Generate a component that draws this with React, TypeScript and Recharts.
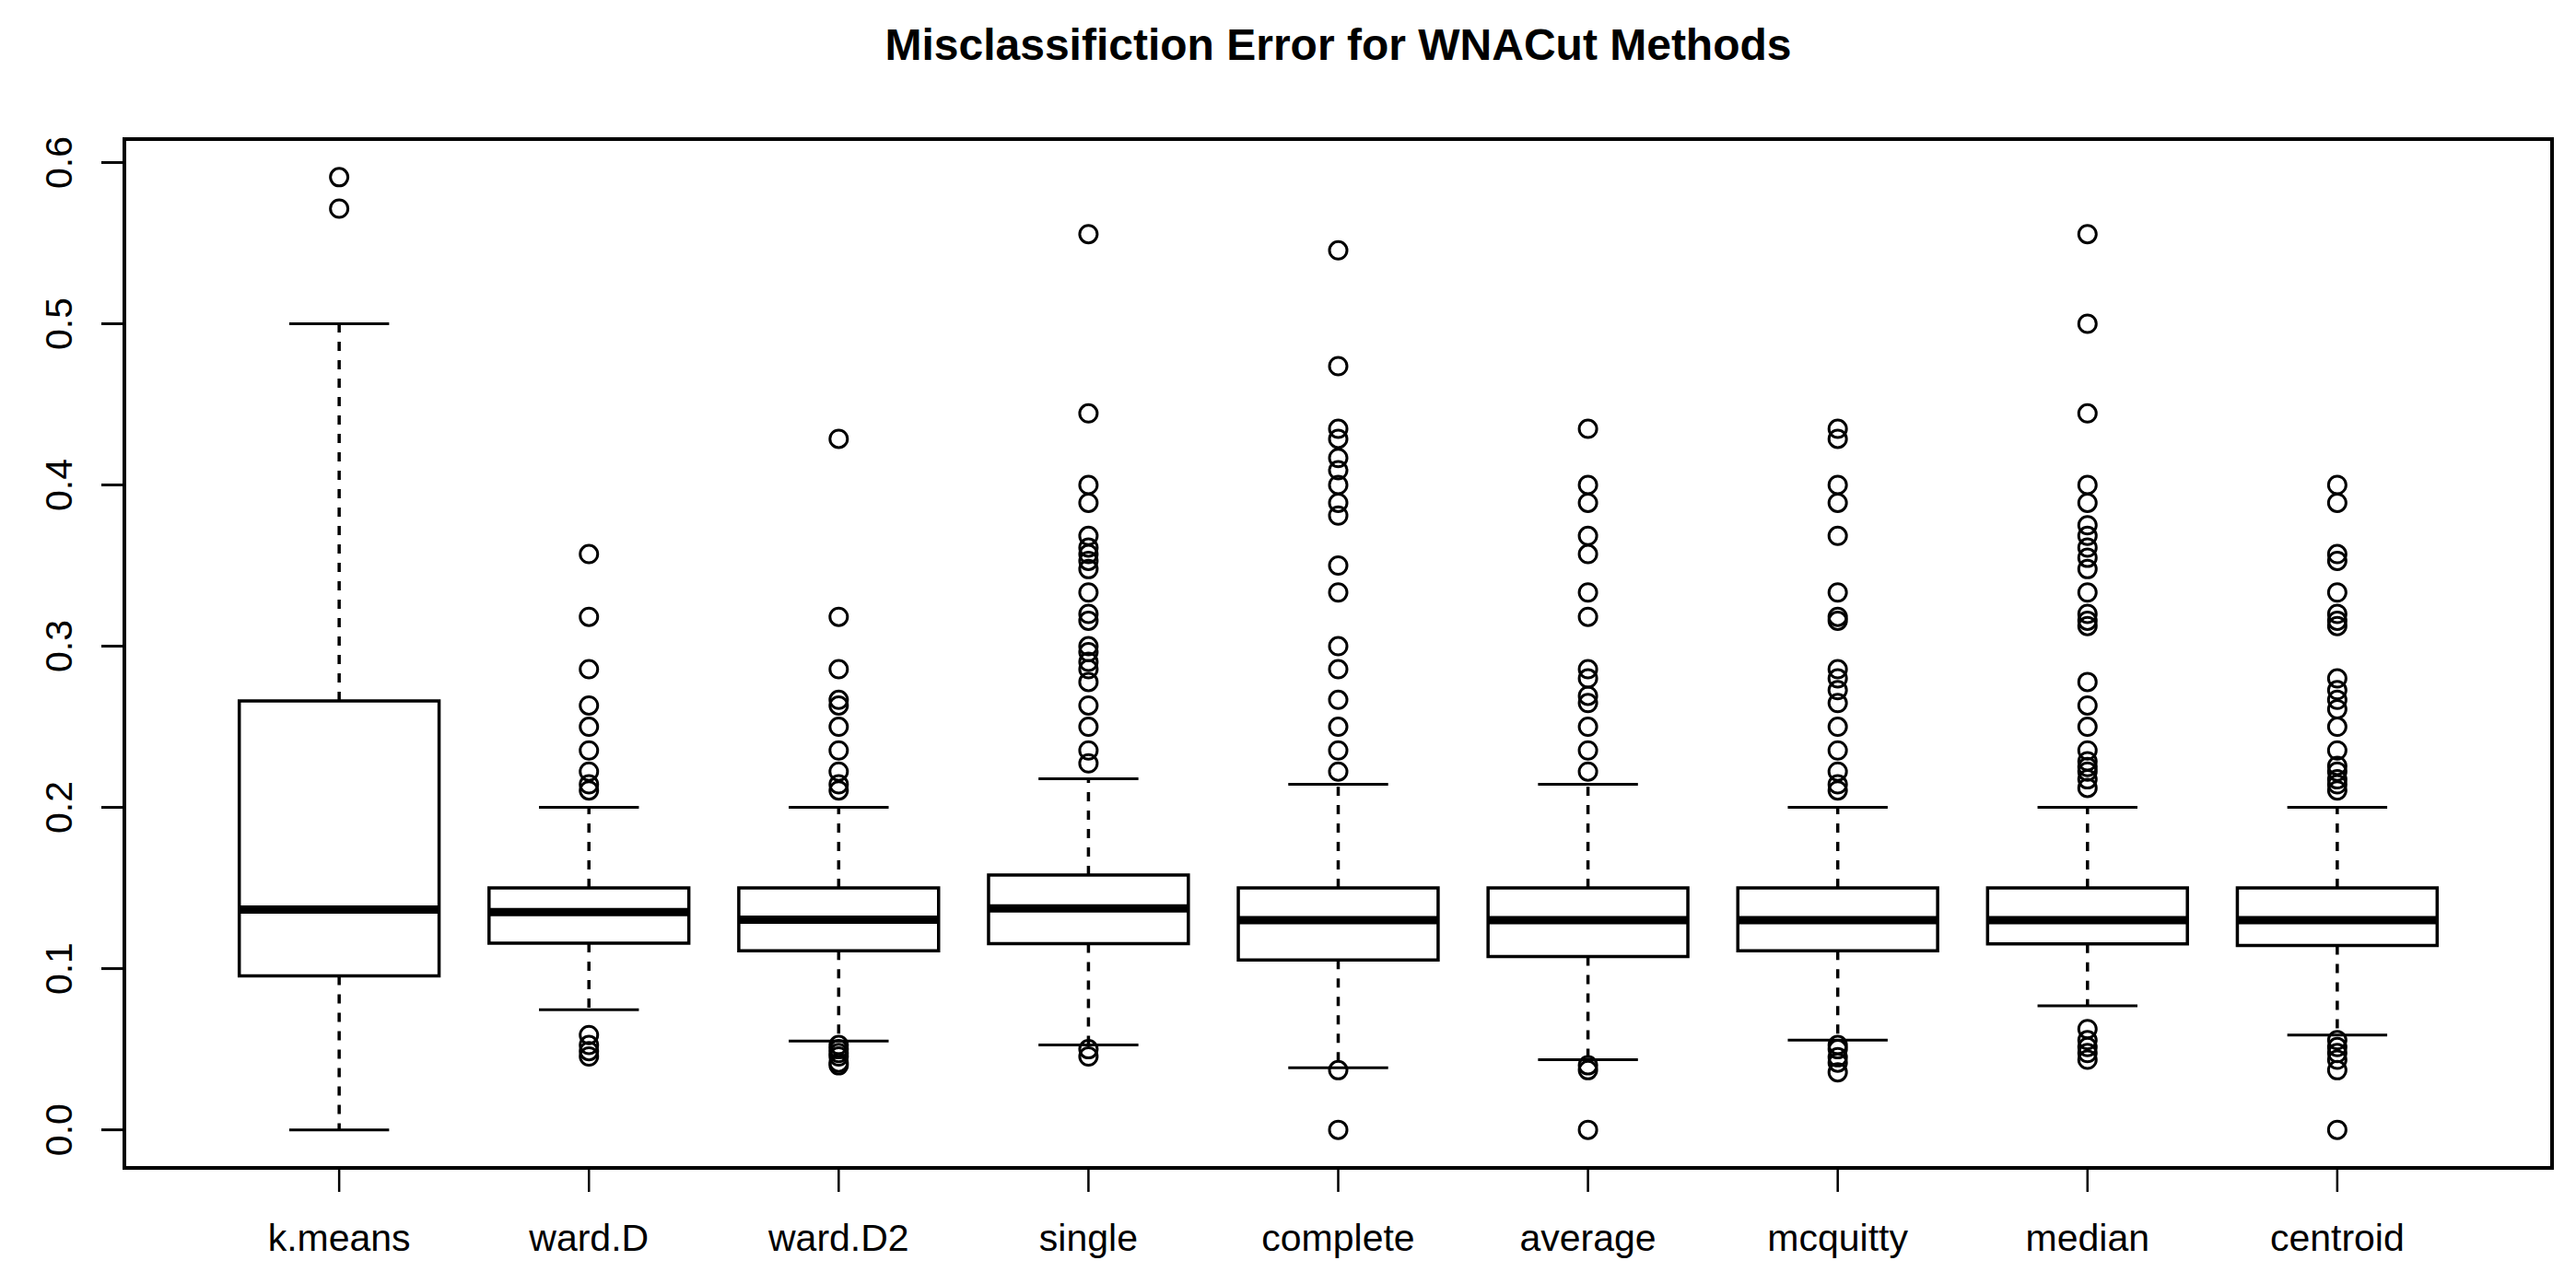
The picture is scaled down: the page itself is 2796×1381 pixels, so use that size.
import { ComposedChart, ReferenceArea, ReferenceLine, Scatter, XAxis, YAxis } from "recharts";

const categories = ["k.means", "ward.D", "ward.D2", "single", "complete", "average", "mcquitty", "median", "centroid"];

const lowerWhisker = [0, 0.0745, 0.055, 0.0526, 0.0385, 0.0435, 0.0556, 0.0769, 0.0588];
const lowerHinge = [0.0955, 0.1158, 0.111, 0.1155, 0.1053, 0.1075, 0.1111, 0.1154, 0.1143];
const medians = [0.1366, 0.135, 0.1304, 0.1373, 0.13, 0.13, 0.13, 0.13, 0.13];
const upperHinge = [0.266, 0.15, 0.15, 0.158, 0.15, 0.15, 0.15, 0.15, 0.15];
const upperWhisker = [0.5, 0.2, 0.2, 0.2178, 0.2143, 0.2143, 0.2, 0.2, 0.2];

const outliers: number[][] = [
  [0.5909, 0.5714],
  [0.3571, 0.3182, 0.2857, 0.2632, 0.25, 0.2353, 0.2222, 0.2143, 0.2105, 0.0588, 0.0526, 0.0488, 0.0455],
  [0.4286, 0.3182, 0.2857, 0.2667, 0.2632, 0.25, 0.2353, 0.2222, 0.2143, 0.2105, 0.0526, 0.05, 0.0476, 0.0455, 0.0417, 0.04],
  [0.5556, 0.4444, 0.4, 0.3889, 0.3684, 0.3611, 0.3571, 0.3529, 0.3478, 0.3333, 0.32, 0.3158, 0.3, 0.2963, 0.2903, 0.2857, 0.2778, 0.2632, 0.25, 0.2353, 0.2273, 0.05, 0.0455],
  [0.5455, 0.4737, 0.4348, 0.4286, 0.4167, 0.4091, 0.4, 0.3889, 0.381, 0.35, 0.3333, 0.3, 0.2857, 0.2667, 0.25, 0.2353, 0.2222, 0.037, 0],
  [0.4348, 0.4, 0.3889, 0.3684, 0.3571, 0.3333, 0.3182, 0.2857, 0.28, 0.2692, 0.2647, 0.25, 0.2353, 0.2222, 0.04, 0.037, 0],
  [0.4348, 0.4286, 0.4, 0.3889, 0.3684, 0.3333, 0.3182, 0.3158, 0.2857, 0.28, 0.2727, 0.2647, 0.25, 0.2353, 0.2222, 0.2143, 0.2105, 0.0526, 0.05, 0.045, 0.0417, 0.0357],
  [0.5556, 0.5, 0.4444, 0.4, 0.3889, 0.375, 0.3684, 0.3611, 0.3548, 0.3478, 0.3333, 0.32, 0.3158, 0.3125, 0.2778, 0.2632, 0.25, 0.2353, 0.2286, 0.225, 0.2222, 0.2174, 0.2121, 0.0625, 0.0556, 0.0513, 0.0476, 0.0435],
  [0.4, 0.3889, 0.3571, 0.3529, 0.3333, 0.32, 0.3158, 0.3125, 0.28, 0.2727, 0.2667, 0.2609, 0.25, 0.2353, 0.2258, 0.2222, 0.2174, 0.2143, 0.2105, 0.0556, 0.0513, 0.0476, 0.0435, 0.037, 0],
];

const yTicks = [0, 0.1, 0.2, 0.3, 0.4, 0.5, 0.6];

const W = 2796;
const H = 1381;
const FONT = '"Liberation Sans", Arial, Helvetica, sans-serif';

// R-style 4% padding around the data range
const allValues = [...lowerWhisker, ...upperWhisker, ...outliers.flat()];
const yLo = Math.min(...allValues);
const yHi = Math.max(...allValues);
const yPad = (yHi - yLo) * 0.04;
const yDomain: [number, number] = [yLo - yPad, yHi + yPad];
const xPad = categories.length * 0.04;
const xDomain: [number, number] = [0.5 - xPad, categories.length + 0.5 + xPad];

const BOX_HALF = 0.4;
const CAP_HALF = 0.2;

const outlierPoints = outliers.flatMap((vals, i) => vals.map((v) => ({ x: i + 1, y: v })));

function OpenCircle(props: any) {
  const { cx, cy } = props;
  if (cx == null || cy == null) return null;
  return <circle cx={cx} cy={cy} r={9.5} fill="none" stroke="#000" strokeWidth={3} />;
}

function XTick(props: any) {
  const { x, y, payload } = props;
  return (
    <text x={x} y={y + 64} textAnchor="middle" fontSize={41} fontFamily={FONT} fill="#000">
      {categories[payload.value - 1]}
    </text>
  );
}

function YTick(props: any) {
  const { x, y, payload } = props;
  const bx = x - 32;
  return (
    <text
      x={bx}
      y={y}
      transform={`rotate(-90, ${bx}, ${y})`}
      textAnchor="middle"
      fontSize={41}
      fontFamily={FONT}
      fill="#000"
    >
      {Number(payload.value).toFixed(1)}
    </text>
  );
}

export default function App() {
  return (
    <div style={{ position: "absolute", left: 0, top: 0, width: W, height: H, background: "#fff" }}>
      <div
        style={{
          position: "absolute",
          left: 135,
          width: 2635,
          top: 25,
          textAlign: "center",
          fontFamily: FONT,
          fontWeight: "bold",
          fontSize: 48,
          lineHeight: "48px",
          color: "#000",
        }}
      >
        Misclassifiction Error for WNACut Methods
      </div>
      <ComposedChart width={W} height={H} margin={{ top: 151, right: 26, bottom: 0, left: 0 }}>
        <XAxis
          type="number"
          dataKey="x"
          domain={xDomain}
          ticks={categories.map((_, i) => i + 1)}
          allowDataOverflow
          height={113}
          axisLine={false}
          tickSize={26}
          tickMargin={0}
          tickLine={{ stroke: "#000", strokeWidth: 2.5 }}
          tick={<XTick />}
          interval={0}
        />
        <YAxis
          type="number"
          dataKey="y"
          domain={yDomain}
          ticks={yTicks}
          allowDataOverflow
          width={135}
          axisLine={false}
          tickSize={25}
          tickMargin={0}
          tickLine={{ stroke: "#000", strokeWidth: 3 }}
          tick={<YTick />}
          interval={0}
        />
        {categories.map((c, i) => (
          <ReferenceLine
            key={`uw-${c}`}
            segment={[
              { x: i + 1, y: upperHinge[i] },
              { x: i + 1, y: upperWhisker[i] },
            ]}
            stroke="#000"
            strokeWidth={3.5}
            strokeDasharray="10 10"
          />
        ))}
        {categories.map((c, i) => (
          <ReferenceLine
            key={`lw-${c}`}
            segment={[
              { x: i + 1, y: lowerHinge[i] },
              { x: i + 1, y: lowerWhisker[i] },
            ]}
            stroke="#000"
            strokeWidth={3.5}
            strokeDasharray="10 10"
          />
        ))}
        {categories.map((c, i) => (
          <ReferenceLine
            key={`uc-${c}`}
            segment={[
              { x: i + 1 - CAP_HALF, y: upperWhisker[i] },
              { x: i + 1 + CAP_HALF, y: upperWhisker[i] },
            ]}
            stroke="#000"
            strokeWidth={3}
          />
        ))}
        {categories.map((c, i) => (
          <ReferenceLine
            key={`lc-${c}`}
            segment={[
              { x: i + 1 - CAP_HALF, y: lowerWhisker[i] },
              { x: i + 1 + CAP_HALF, y: lowerWhisker[i] },
            ]}
            stroke="#000"
            strokeWidth={3}
          />
        ))}
        {categories.map((c, i) => (
          <ReferenceArea
            key={`box-${c}`}
            x1={i + 1 - BOX_HALF}
            x2={i + 1 + BOX_HALF}
            y1={lowerHinge[i]}
            y2={upperHinge[i]}
            fill="#fff"
            fillOpacity={1}
            stroke="#000"
            strokeWidth={3.5}
          />
        ))}
        {categories.map((c, i) => (
          <ReferenceLine
            key={`med-${c}`}
            segment={[
              { x: i + 1 - BOX_HALF, y: medians[i] },
              { x: i + 1 + BOX_HALF, y: medians[i] },
            ]}
            stroke="#000"
            strokeWidth={9}
          />
        ))}
        <ReferenceArea
          x1={xDomain[0]}
          x2={xDomain[1]}
          y1={yDomain[0]}
          y2={yDomain[1]}
          fill="none"
          stroke="#000"
          strokeWidth={4}
          ifOverflow="visible"
        />
        <Scatter data={outlierPoints} shape={<OpenCircle />} isAnimationActive={false} />
      </ComposedChart>
    </div>
  );
}
